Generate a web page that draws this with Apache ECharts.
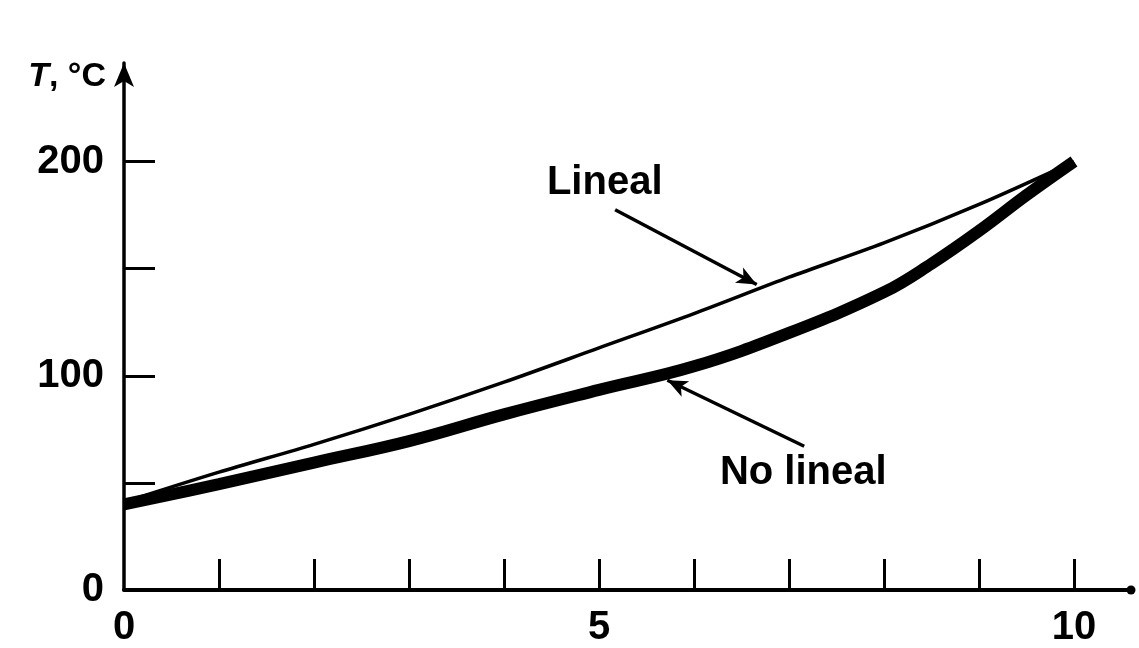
<!DOCTYPE html>
<html><head><meta charset="utf-8">
<script src="https://cdn.jsdelivr.net/npm/echarts@6/dist/echarts.min.js"></script>
<style>html,body{margin:0;padding:0;background:#fff}#c{width:1139px;height:648px}</style>
</head><body><div id="c"></div>
<script>
// Data
const linealX = [0, 1, 2, 3, 4, 5, 6, 7, 8, 9, 10];
const linealT = [41, 55, 68, 82, 97, 113, 129, 146, 162, 180, 200];
const noLinealX = [0, 1, 2, 3, 4, 5, 6, 7, 8, 8.5, 9, 9.5, 10];
const noLinealT = [40, 49.4, 59.5, 69.5, 82, 93.4, 104.4, 120, 139, 152.3, 167.6, 184.3, 200];
const xTickValues = [1, 2, 3, 4, 5, 6, 7, 8, 9, 10];
const xTickLabels = [0, 5, 10];
const yTickValues = [50, 100, 150, 200];
const yTickLabels = [0, 100, 200];
const yAxisName = 'T, °C';
const linealName = 'Lineal';
const noLinealName = 'No lineal';
// annotation anchor points (data units)
const linealLabelAt = [5.06, 189.8];
const noLinealLabelAt = [7.15, 54.5];
const linealArrow = [[5.17, 177.5], [6.66, 142.6]];
const noLinealArrow = [[7.16, 67.1], [5.72, 97.9]];

const FONT = 'Liberation Sans, Arial, Helvetica, sans-serif';
const chart = echarts.init(document.getElementById('c'), null, {renderer: 'canvas'});
const zip = (xs, ys) => xs.map((x, i) => [x, ys[i]]);

chart.setOption({
  animation: false,
  backgroundColor: '#fff',
  grid: {left: 124, right: 8, top: 63, bottom: 57, containLabel: false},
  xAxis: {
    type: 'value', min: 0, max: 10.6, interval: 1,
    splitLine: {show: false},
    axisLine: {show: true, lineStyle: {color: '#000', width: 4}, symbol: ['none', 'circle'], symbolSize: [9, 9]},
    axisTick: {show: true, inside: true, length: 31, lineStyle: {color: '#000', width: 3}, customValues: xTickValues},
    axisLabel: {show: true, customValues: xTickLabels, color: '#000', fontFamily: FONT, fontWeight: 'bold', fontSize: 40, margin: 18}
  },
  yAxis: {
    type: 'value', min: 0, max: 246, interval: 50,
    name: '{i|T}, °C',
    nameLocation: 'end', nameGap: -14,
    nameTextStyle: {color: '#000', fontFamily: FONT, fontWeight: 'bold', fontSize: 34, align: 'right', verticalAlign: 'middle', padding: [0, 18, 0, 0],
      rich: {i: {fontStyle: 'italic', fontFamily: FONT, fontWeight: 'bold', fontSize: 34, color: '#000'}}},
    splitLine: {show: false},
    axisLine: {show: true, lineStyle: {color: '#000', width: 3.5}, symbol: ['none', 'arrow'], symbolSize: [15, 24]},
    axisTick: {show: true, inside: true, length: 31, lineStyle: {color: '#000', width: 3}, customValues: yTickValues},
    axisLabel: {show: true, customValues: yTickLabels, color: '#000', fontFamily: FONT, fontWeight: 'bold', fontSize: 40, margin: 20}
  },
  series: [
    {
      name: linealName, type: 'line', data: zip(linealX, linealT),
      showSymbol: false, symbol: 'none', smooth: 0.3,
      lineStyle: {color: '#000', width: 3.5},
      markLine: {
        silent: true, symbol: ['none', 'arrow'], symbolSize: [13, 20],
        lineStyle: {color: '#000', width: 3.5, type: 'solid'}, label: {show: false},
        data: [
          [{coord: linealArrow[0]}, {coord: linealArrow[1]}],
          [{coord: noLinealArrow[0]}, {coord: noLinealArrow[1]}]
        ]
      },
      markPoint: {
        silent: true, symbol: 'circle', symbolSize: 0,
        label: {show: true, position: 'inside', color: '#000', fontFamily: FONT, fontWeight: 'bold', fontSize: 40, formatter: p => p.name},
        data: [
          {name: linealName, coord: linealLabelAt},
          {name: noLinealName, coord: noLinealLabelAt}
        ]
      }
    },
    {
      name: noLinealName, type: 'line', data: zip(noLinealX, noLinealT),
      showSymbol: false, symbol: 'none', smooth: 0.4,
      lineStyle: {color: '#000', width: 12}
    }
  ]
});
</script></body></html>
